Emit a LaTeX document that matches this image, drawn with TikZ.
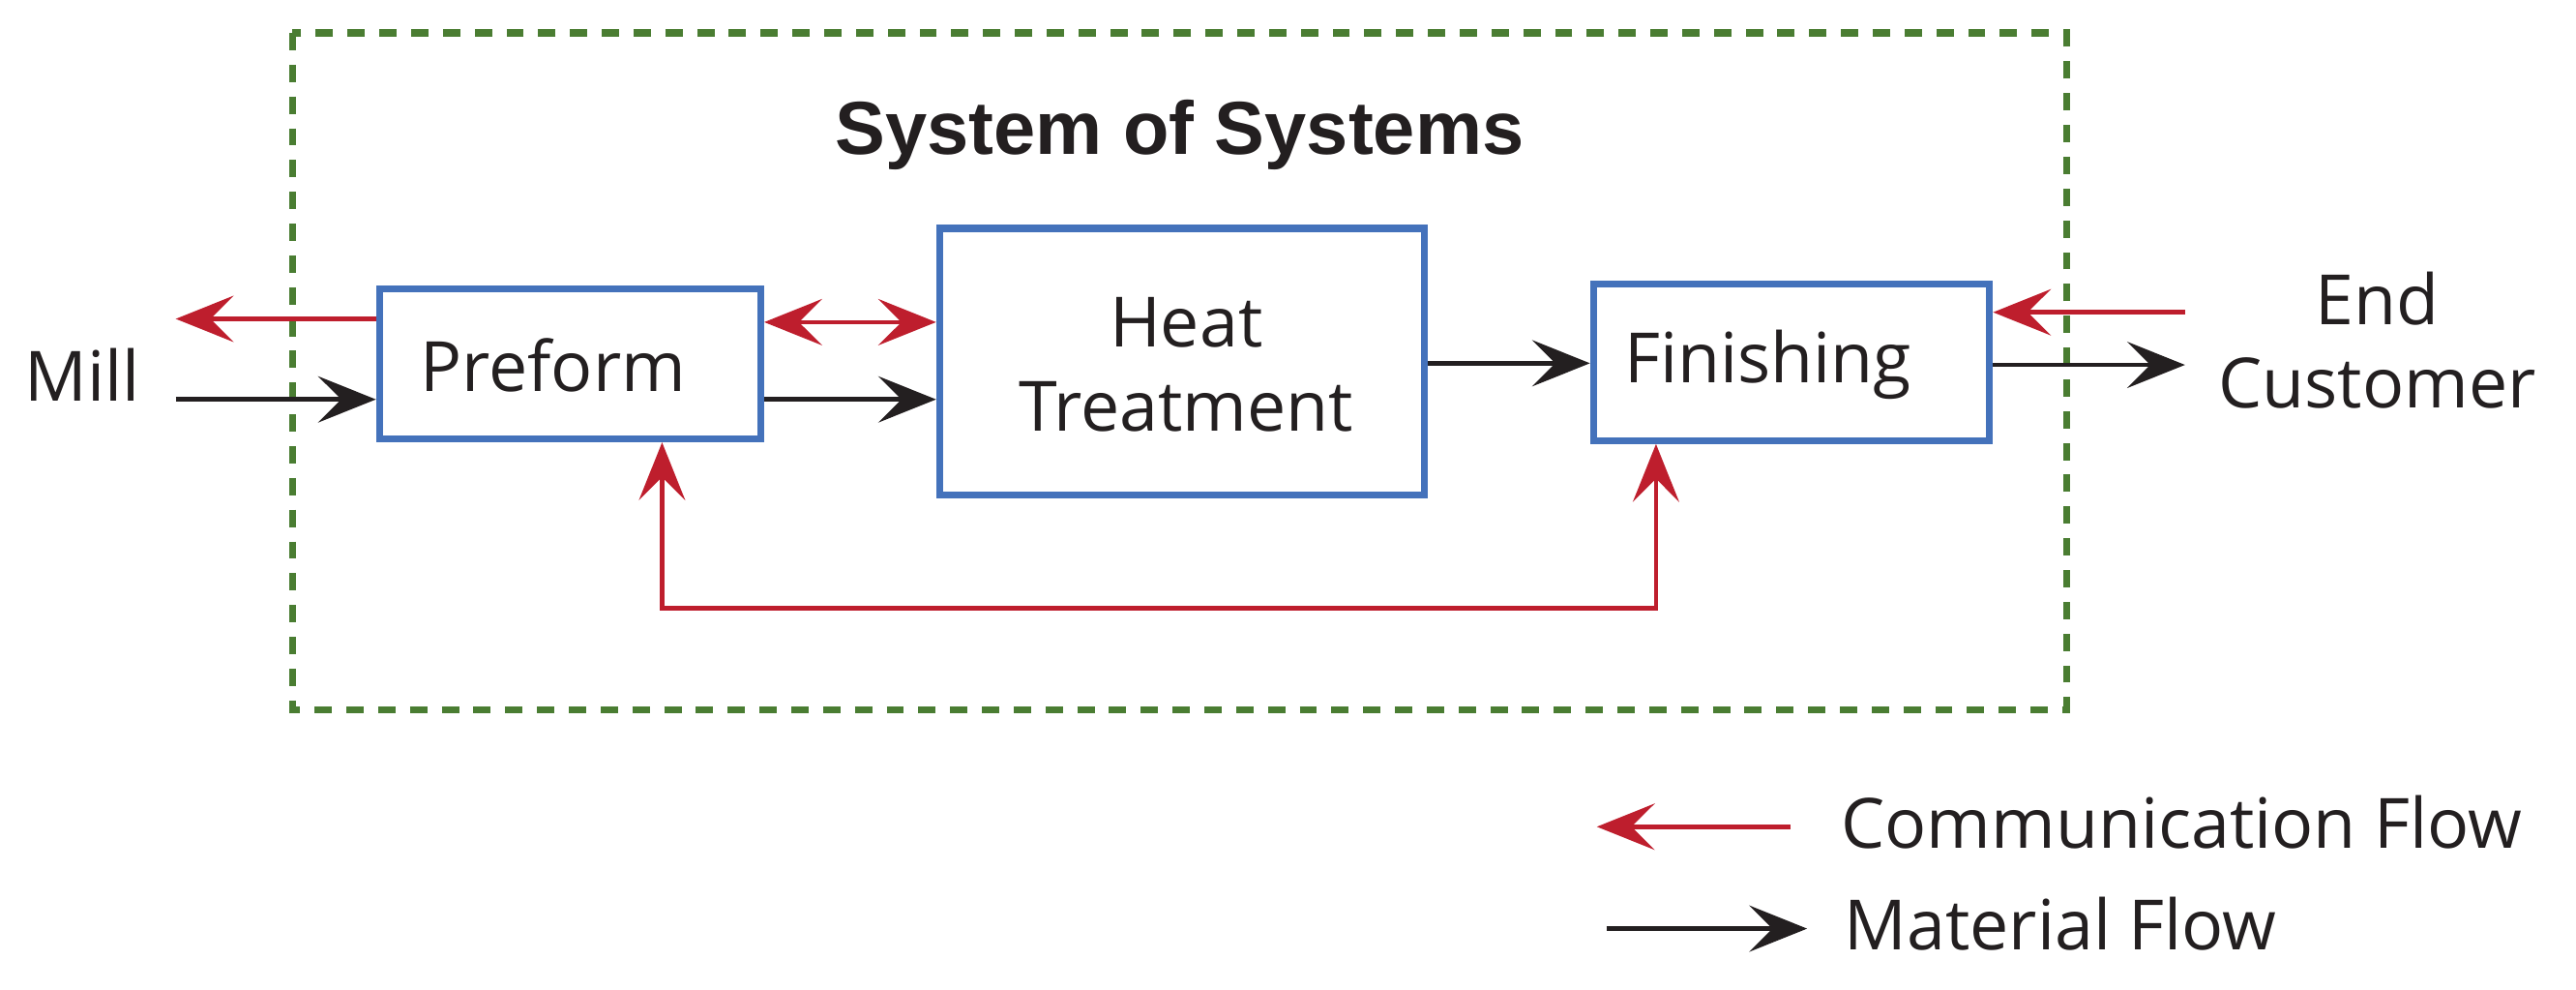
\documentclass[tikz,border=0pt]{standalone}
\usepackage{fontspec}
\setmainfont{Open Sans}
\newfontfamily\titlefont{Liberation Sans}
\usetikzlibrary{arrows.meta}
\definecolor{bx}{RGB}{68,114,187}
\definecolor{gr}{RGB}{74,125,50}
\definecolor{rd}{RGB}{190,30,45}
\definecolor{bk}{RGB}{35,31,32}
\begin{document}
\begin{tikzpicture}[x=0.01cm,y=-0.01cm,
  box/.style={draw=bx,line width=1.2pt,inner sep=0pt,text=bk,font=\fontsize{12}{15}\selectfont,align=center},
  tip/.style={-{Stealth[length=10pt,width=8pt,inset=4pt]}},
  comm/.style={tip,draw=rd,line width=0.8pt},
  mat/.style={tip,draw=bk,line width=0.8pt},
  lbl/.style={font=\fontsize{12}{14.5}\selectfont,text=bk,align=center,inner sep=0pt}]
\useasboundingbox (0,0) rectangle (1568,602);
\draw[gr,line width=1.2pt,dash pattern=on 3pt off 2.5pt] (178,20) rectangle (1258,432);
\node[font=\titlefont\bfseries\fontsize{13}{15}\selectfont,text=bk] (title) at (718,82) {System of Systems};
\node[box,minimum width=2.32cm,minimum height=0.91cm] (pre) at (347,221.5) {};
\node[lbl,anchor=west] at (255,222) {Preform};
\node[box,minimum width=2.95cm,minimum height=1.62cm] (heat) at (719.5,220) {};
\node[lbl] at (722,222) {Heat\\Treatment};
\node[box,minimum width=2.41cm,minimum height=0.95cm] (fin) at (1090.5,220.5) {};
\node[lbl,anchor=west] at (988,222) {Finishing};
\node[lbl] (mill) at (50,228) {Mill};
\node[lbl] (cust) at (1447,207) {End\\Customer};
\coordinate (m1) at (107,194); \coordinate (m2) at (107,243);
\coordinate (c1) at (1330,190); \coordinate (c2) at (1330,222);
\draw[comm] (pre.west |- m1) -- (m1);
\draw[mat] (m2) -- (pre.west |- m2);
\draw[comm,{Stealth[length=10pt,width=8pt,inset=4pt]}-{Stealth[length=10pt,width=8pt,inset=4pt]}] (pre.east |- 0,196) -- (heat.west |- 0,196);
\draw[mat] (pre.east |- 0,243) -- (heat.west |- 0,243);
\draw[mat] (heat.east |- 0,221) -- (fin.west |- 0,221);
\draw[comm] (c1) -- (fin.east |- c1);
\draw[mat] (fin.east |- c2) -- (c2);
\coordinate (l1) at (403,370); \coordinate (l2) at (1008,370);
\draw[comm,{Stealth[length=10pt,width=8pt,inset=4pt]}-{Stealth[length=10pt,width=8pt,inset=4pt]}] (pre.south -| l1) -- (l1) -- (l2) -- (fin.south -| l2);
\coordinate (a1) at (1090,503); \coordinate (a2) at (972,503);
\coordinate (b1) at (978,565); \coordinate (b2) at (1100,565);
\draw[comm] (a1) -- (a2);
\draw[mat] (b1) -- (b2);
\node[lbl,anchor=west] at (1120,500) {Communication Flow};
\node[lbl,anchor=west] at (1122,562) {Material Flow};
\end{tikzpicture}
\end{document}
